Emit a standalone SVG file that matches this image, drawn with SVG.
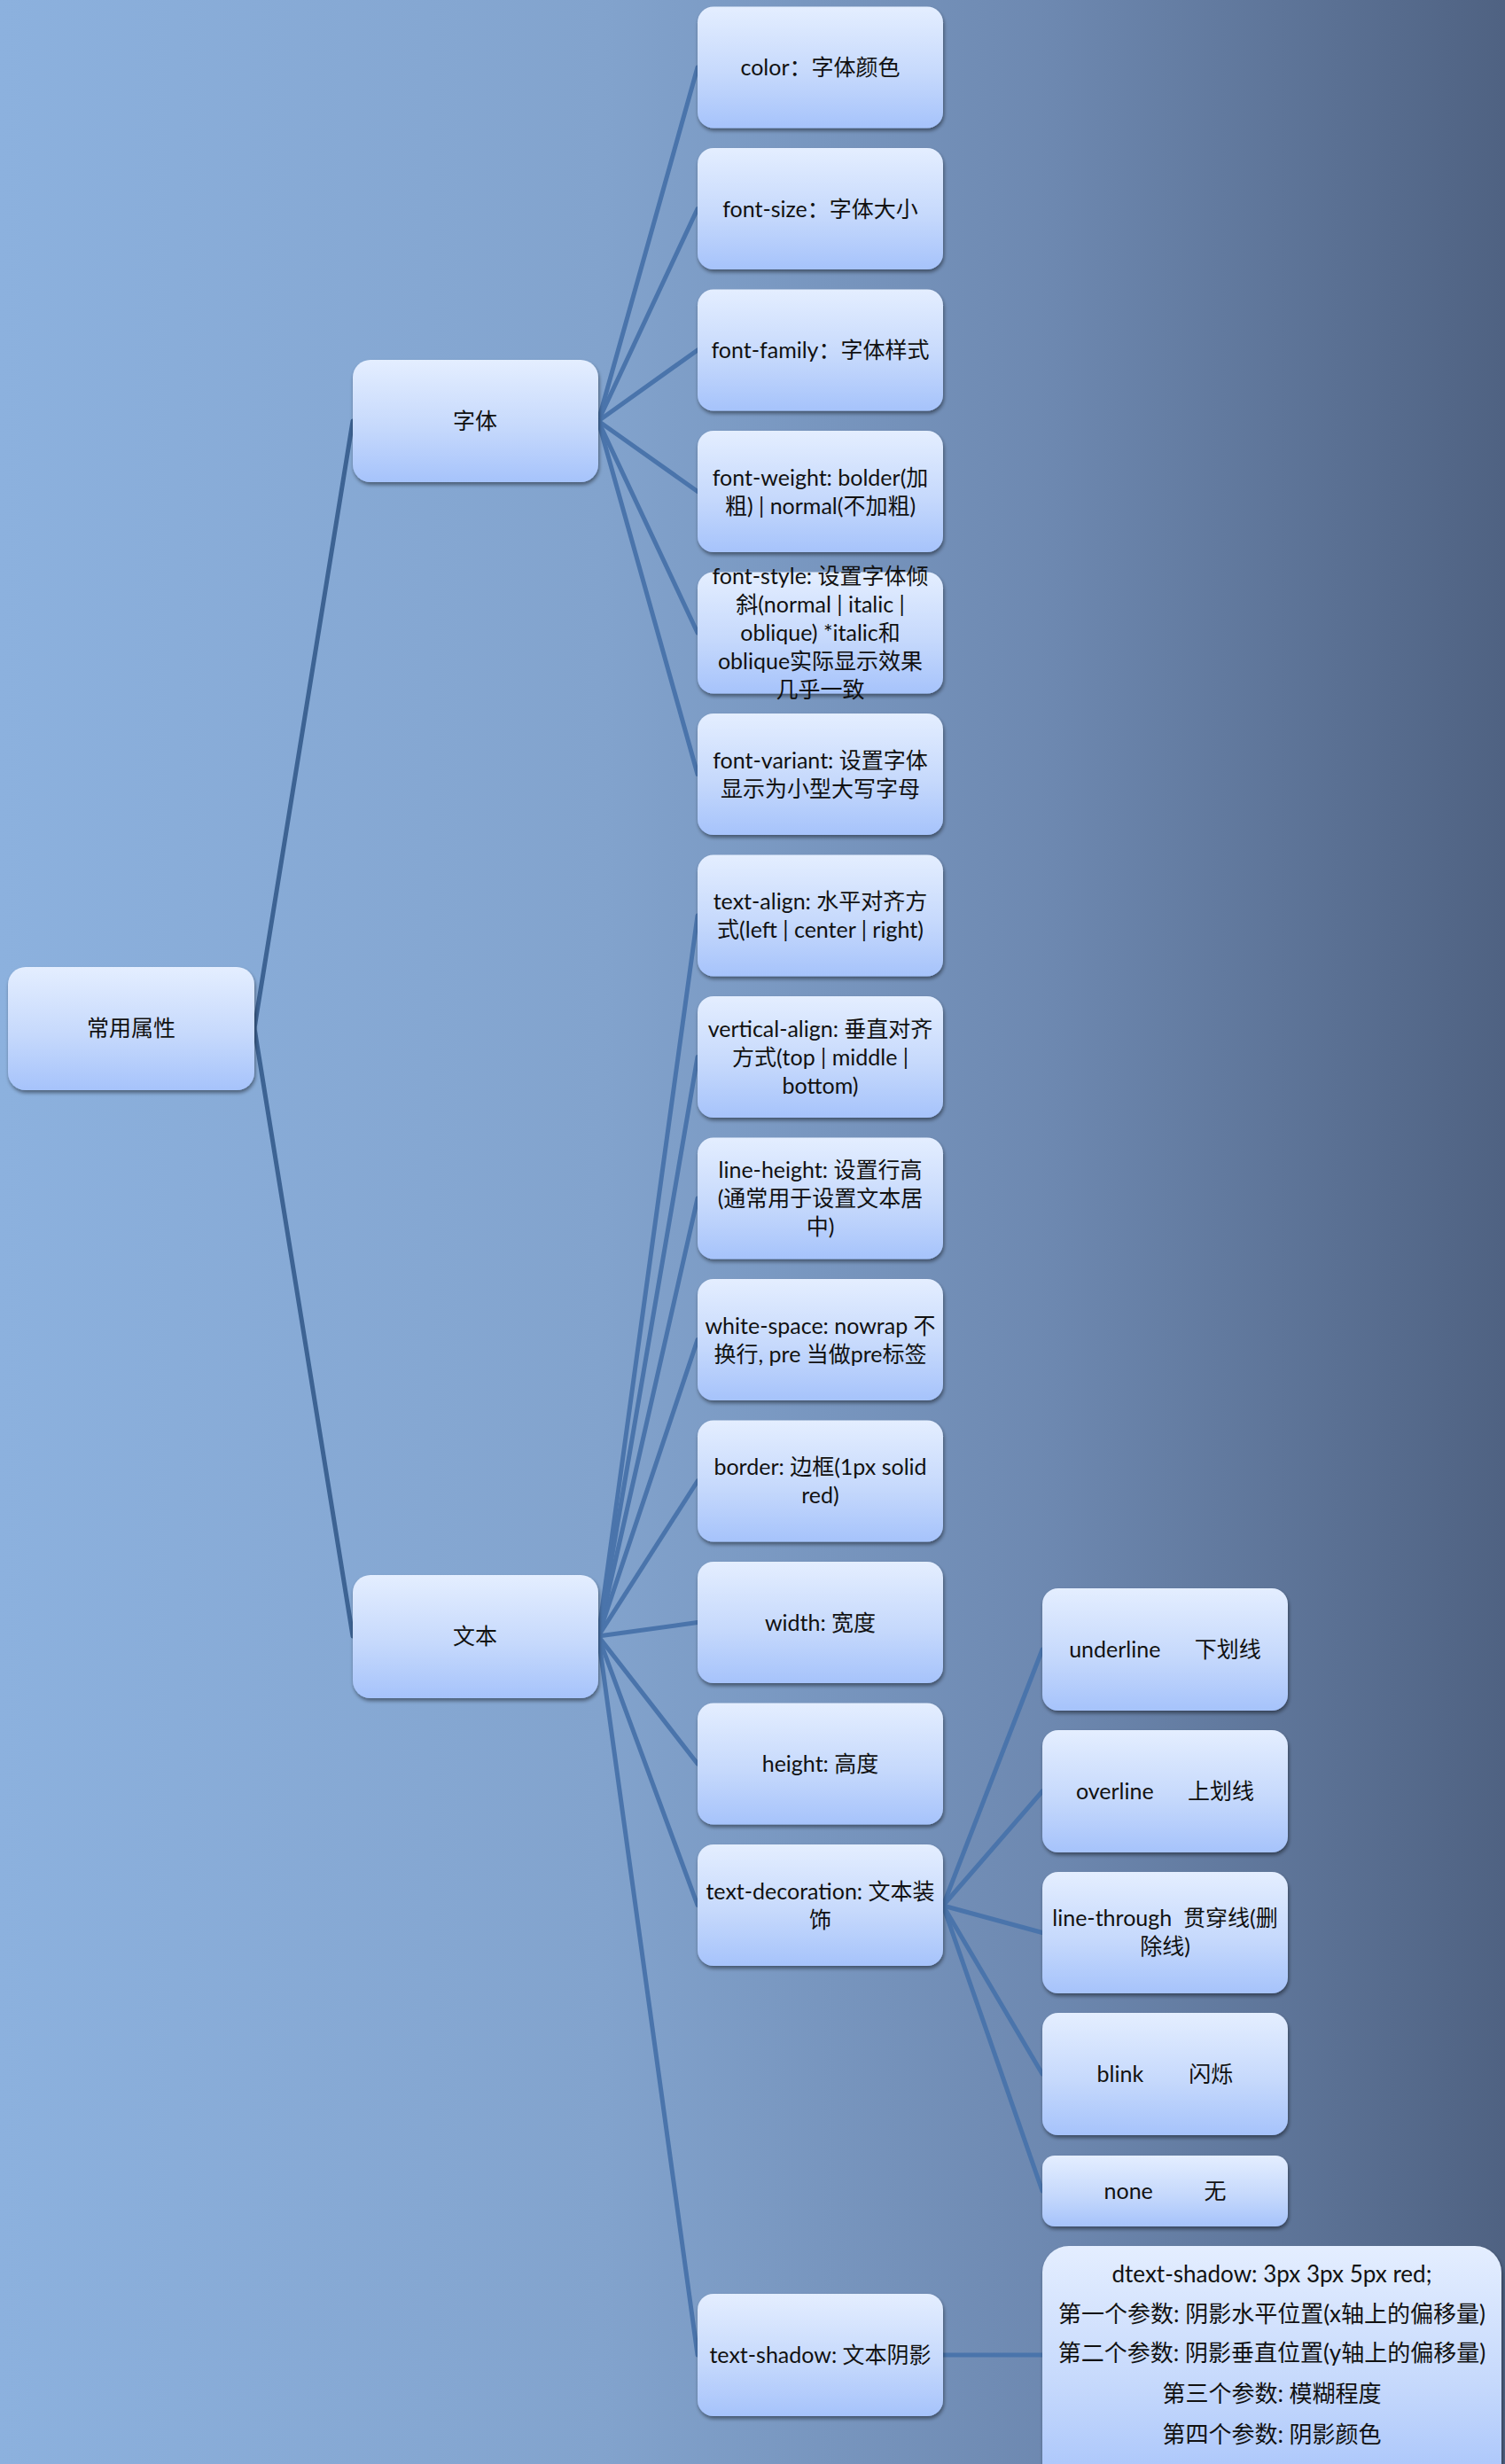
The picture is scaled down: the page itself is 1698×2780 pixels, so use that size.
<svg xmlns="http://www.w3.org/2000/svg" width="1698" height="2780" viewBox="0 0 1698 2780">
<defs>
<linearGradient id="bg" x1="0" y1="0" x2="1" y2="0">
<stop offset="0" stop-color="#8cb1de"/>
<stop offset="0.4" stop-color="#82a3cd"/>
<stop offset="0.7" stop-color="#6d88b0"/>
<stop offset="1" stop-color="#4f6282"/>
</linearGradient>
<linearGradient id="box" x1="0" y1="0" x2="0" y2="1">
<stop offset="0" stop-color="#e4eeff"/>
<stop offset="0.55" stop-color="#c6d9fc"/>
<stop offset="1" stop-color="#a6c3fb"/>
</linearGradient>
<filter id="sh" x="-10%" y="-10%" width="120%" height="130%">
<feGaussianBlur in="SourceAlpha" stdDeviation="2"/>
<feOffset dx="1" dy="3" result="o"/>
<feComponentTransfer><feFuncA type="linear" slope="0.45"/></feComponentTransfer>
<feMerge><feMergeNode/><feMergeNode in="SourceGraphic"/></feMerge>
</filter>
</defs>
<style>
.n rect{fill:url(#box);filter:url(#sh)}
.n text{font-family:"Lato","Noto Sans CJK SC",sans-serif;font-size:25px;fill:#111;text-anchor:middle}
#shadow-detail text{font-size:26px}
.c line{stroke:#4a74ab;stroke-width:5;stroke-linecap:round}
.c line.r{stroke:#3d6393}
</style>
<rect x="0" y="0" width="1698" height="2780" fill="url(#bg)"/>
<g id="connectors" class="c">
<line class="r" x1="287" y1="1160" x2="398" y2="475"/>
<line class="r" x1="287" y1="1160" x2="398" y2="1846"/>
<line x1="675" y1="475" x2="787" y2="76"/>
<line x1="675" y1="475" x2="787" y2="235.5"/>
<line x1="675" y1="475" x2="787" y2="395"/>
<line x1="675" y1="475" x2="787" y2="554.5"/>
<line x1="675" y1="475" x2="787" y2="714"/>
<line x1="675" y1="475" x2="787" y2="873.5"/>
<line x1="675" y1="1846" x2="787" y2="1033"/>
<line x1="675" y1="1846" x2="787" y2="1192.5"/>
<line x1="675" y1="1846" x2="787" y2="1352"/>
<line x1="675" y1="1846" x2="787" y2="1511.5"/>
<line x1="675" y1="1846" x2="787" y2="1671"/>
<line x1="675" y1="1846" x2="787" y2="1830.5"/>
<line x1="675" y1="1846" x2="787" y2="1990"/>
<line x1="675" y1="1846" x2="787" y2="2149.5"/>
<line x1="675" y1="1846" x2="787" y2="2657"/>
<line x1="1064" y1="2150" x2="1176" y2="1861"/>
<line x1="1064" y1="2150" x2="1176" y2="2021"/>
<line x1="1064" y1="2150" x2="1176" y2="2180.5"/>
<line x1="1064" y1="2150" x2="1176" y2="2340"/>
<line x1="1064" y1="2150" x2="1176" y2="2472"/>
<line x1="1064" y1="2657" x2="1176" y2="2657"/>
</g>
<g id="root" class="n"><rect x="9" y="1091" width="278" height="139" rx="20"/><text x="148" y="1169">常用属性</text></g>
<g id="ziti" class="n"><rect x="398" y="406" width="277" height="138" rx="20"/><text x="536" y="484">字体</text></g>
<g id="wenben" class="n"><rect x="398" y="1777" width="277" height="139" rx="20"/><text x="536" y="1855">文本</text></g>
<g id="color" class="n"><rect x="787" y="7.5" width="277" height="137" rx="18"/><text x="925.5" y="85">color：字体颜色</text></g>
<g id="font-size" class="n"><rect x="787" y="167" width="277" height="137" rx="18"/><text x="925.5" y="244.5">font-size：字体大小</text></g>
<g id="font-family" class="n"><rect x="787" y="326.5" width="277" height="137" rx="18"/><text x="925.5" y="404">font-family：字体样式</text></g>
<g id="font-weight" class="n"><rect x="787" y="486" width="277" height="137" rx="18"/><text x="925.5" y="547.5">font-weight: bolder(加</text><text x="925.5" y="579.5">粗) | normal(不加粗)</text></g>
<g id="font-style" class="n"><rect x="787" y="645.5" width="277" height="137" rx="18"/><text x="925.5" y="659">font-style: 设置字体倾</text><text x="925.5" y="691">斜(normal | italic |</text><text x="925.5" y="723">oblique) *italic和</text><text x="925.5" y="755">oblique实际显示效果</text><text x="925.5" y="787">几乎一致</text></g>
<g id="font-variant" class="n"><rect x="787" y="805" width="277" height="137" rx="18"/><text x="925.5" y="866.5">font-variant: 设置字体</text><text x="925.5" y="898.5">显示为小型大写字母</text></g>
<g id="text-align" class="n"><rect x="787" y="964.5" width="277" height="137" rx="18"/><text x="925.5" y="1026">text-align: 水平对齐方</text><text x="925.5" y="1058">式(left | center | right)</text></g>
<g id="vertical-align" class="n"><rect x="787" y="1124" width="277" height="137" rx="18"/><text x="925.5" y="1169.5">vertical-align: 垂直对齐</text><text x="925.5" y="1201.5">方式(top | middle |</text><text x="925.5" y="1233.5">bottom)</text></g>
<g id="line-height" class="n"><rect x="787" y="1283.5" width="277" height="137" rx="18"/><text x="925.5" y="1329">line-height: 设置行高</text><text x="925.5" y="1361">(通常用于设置文本居</text><text x="925.5" y="1393">中)</text></g>
<g id="white-space" class="n"><rect x="787" y="1443" width="277" height="137" rx="18"/><text x="925.5" y="1504.5">white-space: nowrap 不</text><text x="925.5" y="1536.5">换行, pre 当做pre标签</text></g>
<g id="border" class="n"><rect x="787" y="1602.5" width="277" height="137" rx="18"/><text x="925.5" y="1664">border: 边框(1px solid</text><text x="925.5" y="1696">red)</text></g>
<g id="width" class="n"><rect x="787" y="1762" width="277" height="137" rx="18"/><text x="925.5" y="1839.5">width: 宽度</text></g>
<g id="height" class="n"><rect x="787" y="1921.5" width="277" height="137" rx="18"/><text x="925.5" y="1999">height: 高度</text></g>
<g id="text-decoration" class="n"><rect x="787" y="2081" width="277" height="137" rx="18"/><text x="925.5" y="2142.5">text-decoration: 文本装</text><text x="925.5" y="2174.5">饰</text></g>
<g id="text-shadow" class="n"><rect x="787" y="2588" width="277" height="138" rx="18"/><text x="925.5" y="2666">text-shadow: 文本阴影</text></g>
<g id="underline" class="n"><rect x="1176" y="1792" width="277" height="138" rx="18"/><text x="1314.5" y="1870" xml:space="preserve">underline      下划线</text></g>
<g id="overline" class="n"><rect x="1176" y="1952" width="277" height="138" rx="18"/><text x="1314.5" y="2030" xml:space="preserve">overline      上划线</text></g>
<g id="line-through" class="n"><rect x="1176" y="2112" width="277" height="137" rx="18"/><text x="1314.5" y="2173" xml:space="preserve">line-through  贯穿线(删</text><text x="1314.5" y="2205">除线)</text></g>
<g id="blink" class="n"><rect x="1176" y="2271" width="277" height="138" rx="18"/><text x="1314.5" y="2349" xml:space="preserve">blink        闪烁</text></g>
<g id="none" class="n"><rect x="1176" y="2432" width="277" height="80" rx="14"/><text x="1314.5" y="2481" xml:space="preserve">none         无</text></g>
<g id="shadow-detail" class="n"><rect x="1176" y="2534" width="518" height="280" rx="30"/><text x="1435" y="2575">dtext-shadow: 3px 3px 5px red;</text><text x="1435" y="2620">第一个参数: 阴影水平位置(x轴上的偏移量)</text><text x="1435" y="2664">第二个参数: 阴影垂直位置(y轴上的偏移量)</text><text x="1435" y="2710">第三个参数: 模糊程度</text><text x="1435" y="2756">第四个参数: 阴影颜色</text></g>
</svg>
